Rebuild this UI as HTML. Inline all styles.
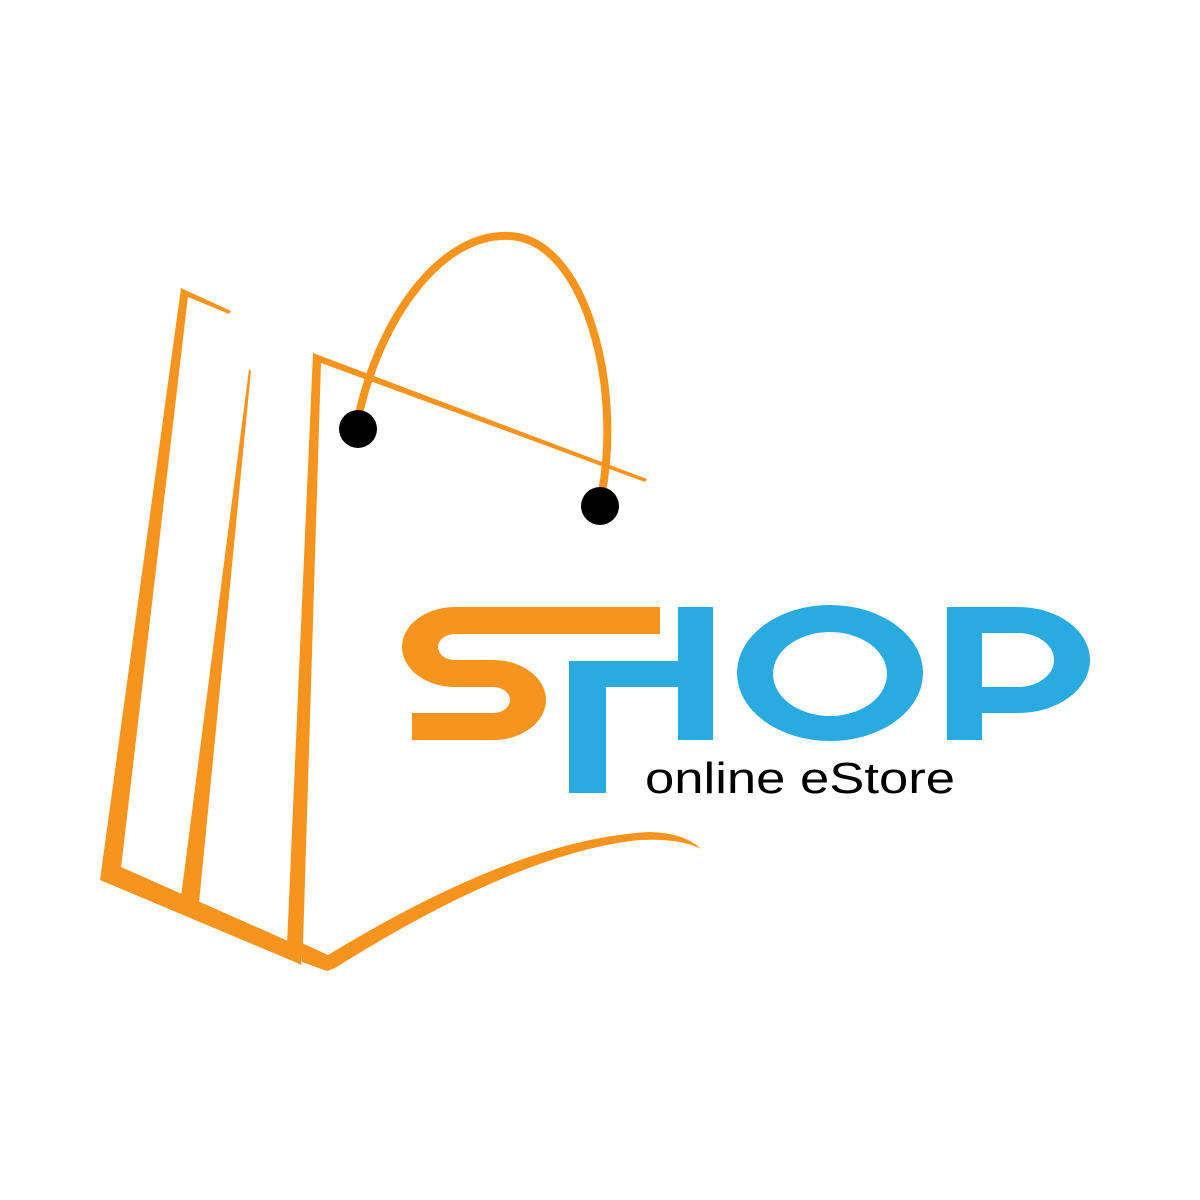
<!DOCTYPE html>
<html><head><meta charset="utf-8"><style>html,body{margin:0;padding:0;background:#fff}svg{display:block}</style></head>
<body>
<svg width="1200" height="1200" viewBox="0 0 1200 1200" xmlns="http://www.w3.org/2000/svg">
<rect width="1200" height="1200" fill="#fff"/>
<g fill="#F7941E">
  <polygon points="181,288 231,311 229,314 188,297"/>
  <polygon points="181,288 188,296 121,868 100,880"/>
  <polygon points="100,880 121,867 288,941 302,965"/>
  <polygon points="249,369 251,371 199,903 181,897"/>
  <polygon points="313,353 321,362 303,945 301,965 287,945"/>
  <polygon points="313,353 647,479 645,482 321,363"/>
  <path d="M302,943 L328,955 Q520,838 650,832 Q685,833 701,849 Q680,838 640,840 Q520,852 335,968 L327,971 L302,962 Z"/>
  <path d="M660,607 H455 A53,40 0 0 0 455,687 H493 A17,13 0 0 1 493,713 H412 V740 H493 A53,40 0 0 0 493,660 H455 A17,13 0 0 1 455,634 H660 Z"/>
</g>
<path d="M359,414 C380,320 440,232 510,236 C585,240 622,385 602,492" fill="none" stroke="#F7941E" stroke-width="8"/>
<circle cx="358" cy="429" r="19" fill="#000"/>
<circle cx="600" cy="506" r="19" fill="#000"/>
<g fill="#29ABE2">
  <rect x="678" y="607" width="35" height="133"/>
  <rect x="569" y="661" width="115" height="26"/>
  <rect x="569" y="661" width="37" height="132"/>
  <path fill-rule="evenodd" d="M737,673 A93,68 0 1 0 923,673 A93,68 0 1 0 737,673 Z M773,674 A57,42 0 1 0 887,674 A57,42 0 1 0 773,674 Z"/>
  <path fill-rule="evenodd" d="M947,607 H1018 A72,53 0 0 1 1018,713 H982 V740 H947 Z M982,633 H1018 A36,27 0 0 1 1018,687 H982 Z"/>
</g>
<text x="645" y="793" font-family="Liberation Sans, sans-serif" font-size="44" fill="#000" textLength="310" lengthAdjust="spacingAndGlyphs">online eStore</text>
</svg>
</body></html>
